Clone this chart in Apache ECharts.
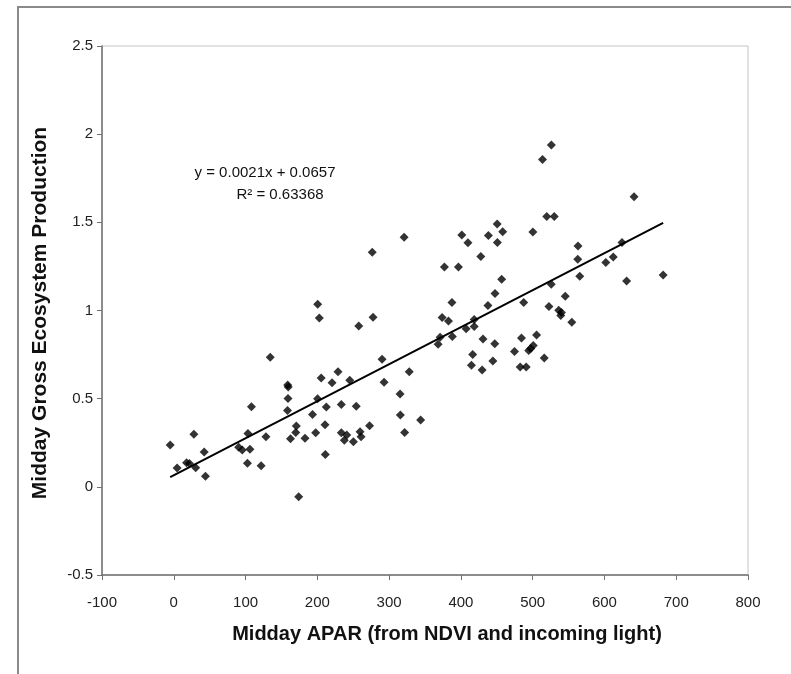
<!DOCTYPE html>
<html>
<head>
<meta charset="utf-8">
<script src="https://cdn.jsdelivr.net/npm/echarts@6/dist/echarts.min.js"></script>
<style>
html,body{margin:0;padding:0;background:#fff;}
#chart{width:791px;height:674px;}
</style>
</head>
<body>
<div id="chart"></div>
<script>
// Midday APAR values (x)
const apar = [
  -5.0, 4.7, 17.8, 21.8, 28.0, 30.5, 42.4, 44.1, 90.4, 95.4,
  106.1, 102.6, 103.3, 108.2, 121.7, 128.4, 134.4, 158.7, 159.5, 159.1,
  158.4, 162.6, 170.7, 169.9, 174.0, 182.8, 193.3, 197.7, 200.3, 200.5,
  202.8, 205.4, 210.7, 212.5, 211.1, 220.5, 228.8, 233.4, 233.4, 241.0,
  237.6, 250.2, 259.5, 260.9, 245.2, 254.2, 257.7, 272.8, 276.5, 277.6,
  290.2, 293.0, 315.3, 315.7, 320.9, 321.6, 328.1, 343.9, 368.3, 371.1,
  373.9, 377.1, 382.7, 387.5, 388.1, 396.6, 401.3, 407.3, 409.8, 414.7,
  416.4, 418.5, 418.5, 427.8, 429.6, 430.8, 437.7, 438.3, 444.6, 447.2,
  447.5, 450.6, 450.8, 456.8, 458.2, 474.7, 482.6, 491.0, 484.4, 487.5,
  494.5, 497.3, 500.8, 500.3, 505.4, 513.7, 516.1, 519.6, 530.1, 522.7,
  525.9, 526.1, 536.3, 540.1, 539.1, 545.4, 554.5, 563.2, 562.8, 565.6,
  601.9, 612.3, 624.5, 630.9, 641.3, 681.8
];
// Midday GEP values (y)
const gep = [
  0.237, 0.107, 0.137, 0.133, 0.298, 0.108, 0.197, 0.060, 0.224, 0.209,
  0.213, 0.134, 0.303, 0.454, 0.120, 0.284, 0.735, 0.577, 0.566, 0.501,
  0.433, 0.272, 0.345, 0.308, -0.056, 0.276, 0.410, 0.307, 0.500, 1.036,
  0.957, 0.617, 0.352, 0.453, 0.184, 0.590, 0.653, 0.467, 0.307, 0.294,
  0.264, 0.256, 0.312, 0.284, 0.605, 0.457, 0.912, 0.347, 1.330, 0.962,
  0.723, 0.593, 0.526, 0.408, 1.415, 0.308, 0.653, 0.379, 0.808, 0.848,
  0.961, 1.247, 0.940, 1.045, 0.852, 1.247, 1.428, 0.896, 1.384, 0.690,
  0.750, 0.949, 0.909, 1.306, 0.662, 0.839, 1.028, 1.425, 0.713, 0.812,
  1.097, 1.490, 1.385, 1.177, 1.446, 0.767, 0.679, 0.679, 0.844, 1.045,
  0.773, 0.784, 0.801, 1.445, 0.861, 1.857, 0.730, 1.533, 1.533, 1.023,
  1.149, 1.938, 1.002, 0.988, 0.971, 1.081, 0.933, 1.366, 1.290, 1.194,
  1.272, 1.303, 1.385, 1.167, 1.645, 1.202
];
// Linear trendline (as reported on the chart)
const trendSlope = [0.0021];
const trendIntercept = [0.0657];
const trendText = ["y = 0.0021x + 0.0657", "R\u00b2 = 0.63368"];
const xTicks = [-100, 800, 100];   // min, max, interval
const yTicks = [-0.5, 2.5, 0.5];

const points = apar.map((x, i) => [x, gep[i]]);
const xMin = Math.min(...apar), xMax = Math.max(...apar);
const trend = [xMin, xMax].map(x => [x, trendSlope[0] * x + trendIntercept[0]]);

const chart = echarts.init(document.getElementById('chart'), null, {renderer: 'canvas'});
const font = '"Liberation Sans", Arial, Helvetica, sans-serif';
chart.setOption({
  animation: false,
  backgroundColor: '#ffffff',
  textStyle: {fontFamily: font},
  grid: {
    left: 102, right: 43, top: 46, bottom: 99,
    show: true, borderColor: '#c4c4c4', borderWidth: 1, backgroundColor: 'transparent'
  },
  xAxis: {
    type: 'value', min: xTicks[0], max: xTicks[1], interval: xTicks[2],
    splitLine: {show: false},
    axisLine: {onZero: false, lineStyle: {color: '#707070', width: 1.5}},
    axisTick: {show: true, inside: false, length: 5, lineStyle: {color: '#707070', width: 1}},
    axisLabel: {fontSize: 15, color: '#222', margin: 20, fontFamily: font}
  },
  yAxis: {
    type: 'value', min: yTicks[0], max: yTicks[1], interval: yTicks[2],
    splitLine: {show: false},
    axisLine: {onZero: false, lineStyle: {color: '#707070', width: 1.5}},
    axisTick: {show: true, inside: false, length: 5, lineStyle: {color: '#707070', width: 1}},
    axisLabel: {fontSize: 15, color: '#222', margin: 9, fontFamily: font}
  },
  graphic: [
    {type: 'rect', silent: true, z: 0,
     shape: {x: 18, y: 7, width: 900, height: 900},
     style: {fill: 'none', stroke: '#8a8a8a', lineWidth: 2}},
    {type: 'text', silent: true, x: 447, y: 634,
     style: {text: 'Midday APAR (from NDVI and incoming light)', align: 'center', verticalAlign: 'middle', fill: '#111', font: 'bold 20px ' + font}},
    {type: 'text', silent: true, x: 40, y: 313, rotation: Math.PI / 2,
     style: {text: 'Midday Gross Ecosystem Production', align: 'center', verticalAlign: 'middle', fill: '#111', font: 'bold 21px ' + font}},
    {type: 'text', silent: true, x: 265, y: 173,
     style: {text: trendText[0], align: 'center', verticalAlign: 'middle', fill: '#111', font: '15px ' + font}},
    {type: 'text', silent: true, x: 280, y: 195,
     style: {text: trendText[1], align: 'center', verticalAlign: 'middle', fill: '#111', font: '15px ' + font}}
  ],
  series: [
    {
      type: 'scatter', data: points, symbol: 'diamond', symbolSize: 9,
      itemStyle: {color: '#000'}, z: 3
    },
    {
      type: 'line', data: trend, symbol: 'none', silent: true,
      lineStyle: {color: '#000', width: 2}, z: 4
    }
  ]
});
</script>
</body>
</html>
